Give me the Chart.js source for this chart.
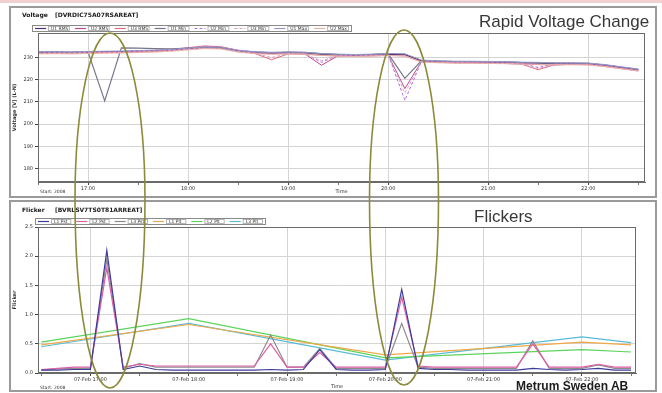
<!DOCTYPE html>
<html><head><meta charset="utf-8">
<script src="https://cdn.jsdelivr.net/npm/chart.js@4"></script>
<style>
html,body{margin:0;padding:0;background:#fff;width:662px;height:393px;overflow:hidden;position:relative;font-family:"Liberation Sans",Arial,sans-serif}
.strip{position:absolute;left:0;top:0;width:662px;height:3px;background:#f2cfd0}
.panel{position:absolute;left:9px;width:648px;box-sizing:border-box;border:2px solid #9a9a9a;background:#fff}
#p1{top:6px;height:192px}
#p2{top:200px;height:192px}
canvas.c{position:absolute}
#c1{left:12px;top:9px}
#c2{left:12px;top:204px}
#ov{position:absolute;left:0;top:0;pointer-events:none}
.lbl{position:absolute;white-space:nowrap;color:#383838;line-height:17px;font-size:17px}
</style></head><body>
<div class="strip"></div>
<div class="panel" id="p1"></div>
<div class="panel" id="p2"></div>
<canvas class="c" id="c1" width="642" height="186"></canvas>
<canvas class="c" id="c2" width="642" height="186"></canvas>
<canvas id="ov" width="662" height="393"></canvas>
<div class="lbl" style="left:479px;top:13px;">Rapid Voltage Change</div>
<div class="lbl" style="left:474px;top:208px;">Flickers</div>
<div class="lbl" style="left:516px;top:380px;font-size:12px;line-height:12px;font-weight:bold;color:#1c1c1c;">Metrum Sweden AB</div>
<script>
// ---------- DATA ----------
const times = ['16:30','16:40','16:50','17:00','17:10','17:20','17:30','17:40','17:50',
  '18:00','18:10','18:20','18:30','18:40','18:50','19:00','19:10','19:20','19:30','19:40','19:50',
  '20:00','20:10','20:20','20:30','20:40','20:50','21:00','21:10','21:20','21:30','21:40','21:50',
  '22:00','22:10','22:20','22:30'];
const hourTicks = ['17:00','18:00','19:00','20:00','21:00','22:00'];
const voltageTicks = [180,190,200,210,220,230];
const flickerTicks = [0,0.5,1,1.5,2,2.5];

const voltageLabels = ['U1 RMS','U2 RMS','U3 RMS','U1 Min','U2 Min','U3 Min','U1 Max','U2 Max'];
const vU1rms = [232.2,232.3,232.2,232.4,232.5,232.6,232.8,233.0,233.4,234.0,234.6,234.4,233.0,232.3,232.0,232.2,232.1,231.5,231.2,231.0,231.2,231.5,231.3,228.5,228.2,228.0,228.0,227.9,227.8,227.6,227.5,227.3,227.3,227.2,226.5,225.5,224.5];
const vU2rms = [232.0,232.0,232.1,232.2,232.3,232.4,232.6,232.8,233.2,233.8,234.3,234.0,232.8,232.0,231.8,231.9,231.6,226.5,230.8,230.8,230.9,231.0,216.0,228.2,228.0,227.8,227.7,227.6,227.5,227.2,226.8,226.6,227.0,227.0,226.2,225.2,224.2];
const vU3rms = [231.8,231.9,232.0,232.1,232.2,232.3,232.5,232.9,233.6,234.4,235.2,234.8,233.2,231.8,229.0,231.6,231.5,231.0,230.6,230.5,230.7,230.9,230.7,228.0,227.8,227.6,227.6,227.5,227.3,227.0,224.5,226.8,226.9,226.8,226.0,225.0,224.0];
const vU1min = [232.4,232.4,232.3,232.5,210.5,234.3,234.2,234.0,233.9,234.2,234.6,234.2,232.8,232.4,232.2,232.3,232.2,231.6,231.3,231.1,231.3,231.6,220.6,228.6,228.3,228.1,228.1,228.0,227.9,227.7,227.6,227.4,227.4,227.3,226.6,225.6,224.6];
const vU2min = [232.1,232.2,232.1,232.3,232.4,232.5,232.7,232.9,233.3,233.9,234.4,234.2,232.9,232.2,231.5,232.0,231.8,227.8,230.9,230.9,231.0,231.3,210.7,228.3,228.0,227.9,227.8,227.7,227.6,227.3,225.5,227.0,227.1,227.0,226.3,225.3,224.3];
const vU3min = [231.9,232.0,232.0,232.1,232.2,232.3,232.5,232.7,233.1,233.7,234.1,233.9,232.6,231.9,230.0,231.7,231.5,228.5,230.7,230.6,230.8,231.0,214.0,228.0,227.8,227.6,227.5,227.4,227.3,227.0,225.0,226.7,226.8,226.7,225.9,224.9,223.9];
const vU1max = [232.6,232.6,232.5,232.7,232.8,232.9,233.1,233.3,233.6,234.2,234.8,234.6,233.3,232.6,232.3,232.5,232.4,231.8,231.5,231.3,231.5,231.8,231.6,228.8,228.5,228.3,228.3,228.2,228.1,227.9,227.8,227.6,227.6,227.5,226.8,225.8,224.8];
const vU2max = [231.6,231.7,231.6,231.8,231.9,232.0,232.2,232.4,232.8,233.4,234.0,233.8,232.4,231.7,231.4,231.6,231.5,230.9,230.6,230.4,230.6,230.9,230.7,227.9,227.6,227.4,227.4,227.3,227.2,227.0,226.9,226.7,226.7,226.6,225.9,224.9,223.9];

const flickerLabels = ['L1 Pst','L2 Pst','L3 Pst','L1 Plt','L2 Plt','L3 Plt'];
const pstL1 = [0.05,0.05,0.06,0.06,2.10,0.06,0.12,0.06,0.05,0.05,0.05,0.05,0.05,0.05,0.06,0.05,0.06,0.40,0.06,0.05,0.05,0.06,1.43,0.08,0.06,0.06,0.05,0.05,0.05,0.05,0.08,0.06,0.05,0.06,0.08,0.05,0.05];
const pstL2 = [0.06,0.08,0.10,0.10,1.80,0.10,0.15,0.12,0.12,0.12,0.12,0.12,0.12,0.12,0.50,0.10,0.10,0.35,0.10,0.10,0.10,0.10,1.30,0.12,0.10,0.10,0.10,0.10,0.10,0.10,0.50,0.10,0.10,0.10,0.15,0.10,0.10];
const pstL3 = [0.05,0.07,0.08,0.08,1.95,0.08,0.16,0.10,0.10,0.10,0.10,0.10,0.10,0.10,0.65,0.10,0.10,0.42,0.08,0.08,0.08,0.08,0.85,0.10,0.08,0.08,0.08,0.08,0.08,0.08,0.55,0.08,0.08,0.08,0.14,0.08,0.08];
const pltL1 = [0.48,null,null,null,null,null,null,null,null,0.83,null,null,null,null,null,null,null,null,null,null,null,0.31,null,null,null,null,null,null,null,null,null,null,null,0.53,null,null,0.48];
const pltL2 = [0.53,null,null,null,null,null,null,null,null,0.93,null,null,null,null,null,null,null,null,null,null,null,0.26,null,null,null,null,null,null,null,null,null,null,null,0.40,null,null,0.36];
const pltL3 = [0.45,null,null,null,null,null,null,null,null,0.85,null,null,null,null,null,null,null,null,null,null,null,0.22,null,null,null,null,null,null,null,null,null,null,null,0.62,null,null,0.52];

// ---------- HELPERS ----------
const toMin = s => parseInt(s.slice(0,2),10)*60 + parseInt(s.slice(3),10);
const fmt = m => String(Math.floor(m/60)).padStart(2,'0') + ':' + String(m%60).padStart(2,'0');
const xs = times.map(toMin);
const pts = arr => arr.map((v,i)=>({x:xs[i], y:v}));
const hourMins = hourTicks.map(toMin);
const xTickValues = [];
hourMins.forEach(h=>{ xTickValues.push(h-30); xTickValues.push(h); });
xTickValues.push(hourMins[hourMins.length-1]+30);
const isHour = v => hourMins.includes(v);

function decor(o){
  return {
    id:'decor_'+o.key,
    afterDraw(chart){
      const ctx = chart.ctx, a = chart.chartArea;
      ctx.save();
      ctx.strokeStyle = '#6a6a6a'; ctx.lineWidth = 1;
      ctx.strokeRect(Math.round(a.left)+0.5, Math.round(a.top)+0.5, Math.round(a.right-a.left)-1, Math.round(a.bottom-a.top)-1);
      // header title
      ctx.fillStyle = '#202020';
      ctx.font = 'bold 6px "DejaVu Sans"';
      ctx.textBaseline = 'middle';
      ctx.fillText(o.title, 10, 6.5);
      ctx.fillText(o.tag, 43, 6.5);
      // legend box
      const n = chart.data.datasets.length;
      ctx.fillStyle = '#fff';
      ctx.fillRect(o.lx, o.ly, o.lw, o.lh);
      ctx.strokeStyle = '#8a8a8a';
      ctx.strokeRect(o.lx+0.5, o.ly+0.5, o.lw, o.lh);
      const ew = o.lw / n;
      ctx.font = '4.5px "DejaVu Sans"';
      chart.data.datasets.forEach((ds,i)=>{
        const x0 = o.lx + i*ew, ym = o.ly + o.lh/2 + 0.5;
        ctx.strokeStyle = ds.borderColor; ctx.lineWidth = 1.2;
        ctx.setLineDash(ds.borderDash || []);
        ctx.beginPath(); ctx.moveTo(x0+3, ym); ctx.lineTo(x0+14, ym); ctx.stroke();
        ctx.setLineDash([]);
        ctx.strokeStyle = '#b5b5b5'; ctx.lineWidth = 1;
        ctx.strokeRect(x0+16.5, o.ly+1.5, ew-19, o.lh-2);
        ctx.fillStyle = '#333';
        ctx.fillText(ds.label, x0+19, ym);
      });
      // start text
      ctx.font = '4.5px "DejaVu Sans"';
      ctx.fillStyle = '#333';
      ctx.fillText('Start: 2008', 28, o.startY);
      ctx.restore();
    }
  };
}

function axisX(min, max, labelFn, h){
  return {
    type:'linear', min:min, max:max,
    afterBuildTicks: s => { s.ticks = xTickValues.map(v=>({value:v})); },
    afterFit: s => { s.height = h; },
    ticks:{ autoSkip:false, maxRotation:0, padding:1, color:'#333', font:{size:5, family:'DejaVu Sans'},
      callback: v => isHour(v) ? labelFn(v) : '' },
    grid:{ color: c => (c.tick && isHour(c.tick.value)) ? '#d4d4d4' : 'rgba(0,0,0,0)',
      tickColor: c => (c.tick && isHour(c.tick.value)) ? '#444' : '#777', tickLength:3 },
    border:{ display:true, color:'#6a6a6a' },
    title:{ display:true, text:'Time', color:'#333', font:{size:5, family:'DejaVu Sans'}, padding:0 }
  };
}
function axisY(min, max, tickArr, title, fmtFn){
  return {
    min:min, max:max,
    afterBuildTicks: s => { s.ticks = tickArr.map(v=>({value:v})); },
    afterFit: s => { s.width = 26; },
    ticks:{ padding:2, color:'#333', font:{size:5, family:'DejaVu Sans'}, callback: fmtFn },
    grid:{ color:'#d4d4d4', tickColor:'#444', tickLength:3 },
    border:{ display:true, color:'#6a6a6a' },
    title:{ display:true, text:title, color:'#333', font:{size:5, family:'DejaVu Sans', weight:'bold'}, padding:0 }
  };
}

// ---------- TOP CHART (Voltage) ----------
const vSeries = [vU1rms,vU2rms,vU3rms,vU1min,vU2min,vU3min,vU1max,vU2max];
const vColors = ['#4a2f7a','#c04a8a','#e06878','#76768a','#b070d8','#e0a0c8','#9a96c8','#e8b4a8'];
const vWidths = [1.6,1,1,1.2,1,1,1,1];
const vDash = [null,null,null,null,[3,2],[3,2],null,null];
const vOrder = [0,1,2,3,4,5,6,7];
new Chart(document.getElementById('c1'), {
  type:'line',
  data:{ datasets: vSeries.map((s,i)=>({
    label: voltageLabels[i], data: pts(s), borderColor: vColors[i], borderWidth: vWidths[i],
    borderDash: vDash[i] || [], pointRadius:0, tension:0, order: 8-vOrder[i]
  })) },
  options:{
    responsive:false, animation:false, devicePixelRatio:1,
    layout:{ padding:{ left:0, right:9, top:24, bottom:0 } },
    plugins:{ legend:{display:false}, tooltip:{enabled:false} },
    scales:{
      x: axisX(990, 1354, v=>fmt(v), 13),
      y: axisY(174, 241, voltageTicks, 'Voltage [V] (L-N)', v=>String(v))
    }
  },
  plugins:[decor({key:'v', title:'Voltage', tag:'[DVRDIC75A07RSAREAT]', lx:20, ly:16, lw:319, lh:6, startY:183})]
});

// ---------- BOTTOM CHART (Flicker) ----------
const fSeries = [pstL1,pstL2,pstL3,pltL1,pltL2,pltL3];
const fColors = ['#3c3c9c','#e060a8','#8a8a8a','#f0a848','#5cd45c','#58bcd8'];
new Chart(document.getElementById('c2'), {
  type:'line',
  data:{ datasets: fSeries.map((s,i)=>({
    label: flickerLabels[i], data: pts(s), borderColor: fColors[i], borderWidth: i<3 ? 1.2 : 1.2,
    pointRadius:0, tension:0, spanGaps:true, order: i<3 ? i : 10
  })) },
  options:{
    responsive:false, animation:false, devicePixelRatio:1,
    layout:{ padding:{ left:0, right:18, top:23, bottom:0 } },
    plugins:{ legend:{display:false}, tooltip:{enabled:false} },
    scales:{
      x: axisX(988, 1353, v=>'07-Feb ' + fmt(v), 17),
      y: axisY(0, 2.5, flickerTicks, 'Flicker', v=>Number(v).toFixed(1))
    }
  },
  plugins:[decor({key:'f', title:'Flicker', tag:'[BVRLSV7TS0T81ARREAT]', lx:23, ly:14, lw:230, lh:6, startY:184})]
});

// ---------- OVERLAY (hand-drawn highlight ovals) ----------
const ov = document.getElementById('ov').getContext('2d');
ov.strokeStyle = '#8b8b3a';
ov.lineWidth = 1.6;
function oval(cx, cy, rx, ryTop, ryBot){
  ov.beginPath();
  ov.ellipse(cx, cy, rx, ryTop, 0, Math.PI, 2*Math.PI);
  ov.ellipse(cx, cy, rx, ryBot, 0, 0, Math.PI);
  ov.closePath();
  ov.stroke();
}
oval(110, 200, 35, 167, 188);
oval(404, 200, 34.5, 170, 185);
</script>
</body></html>
